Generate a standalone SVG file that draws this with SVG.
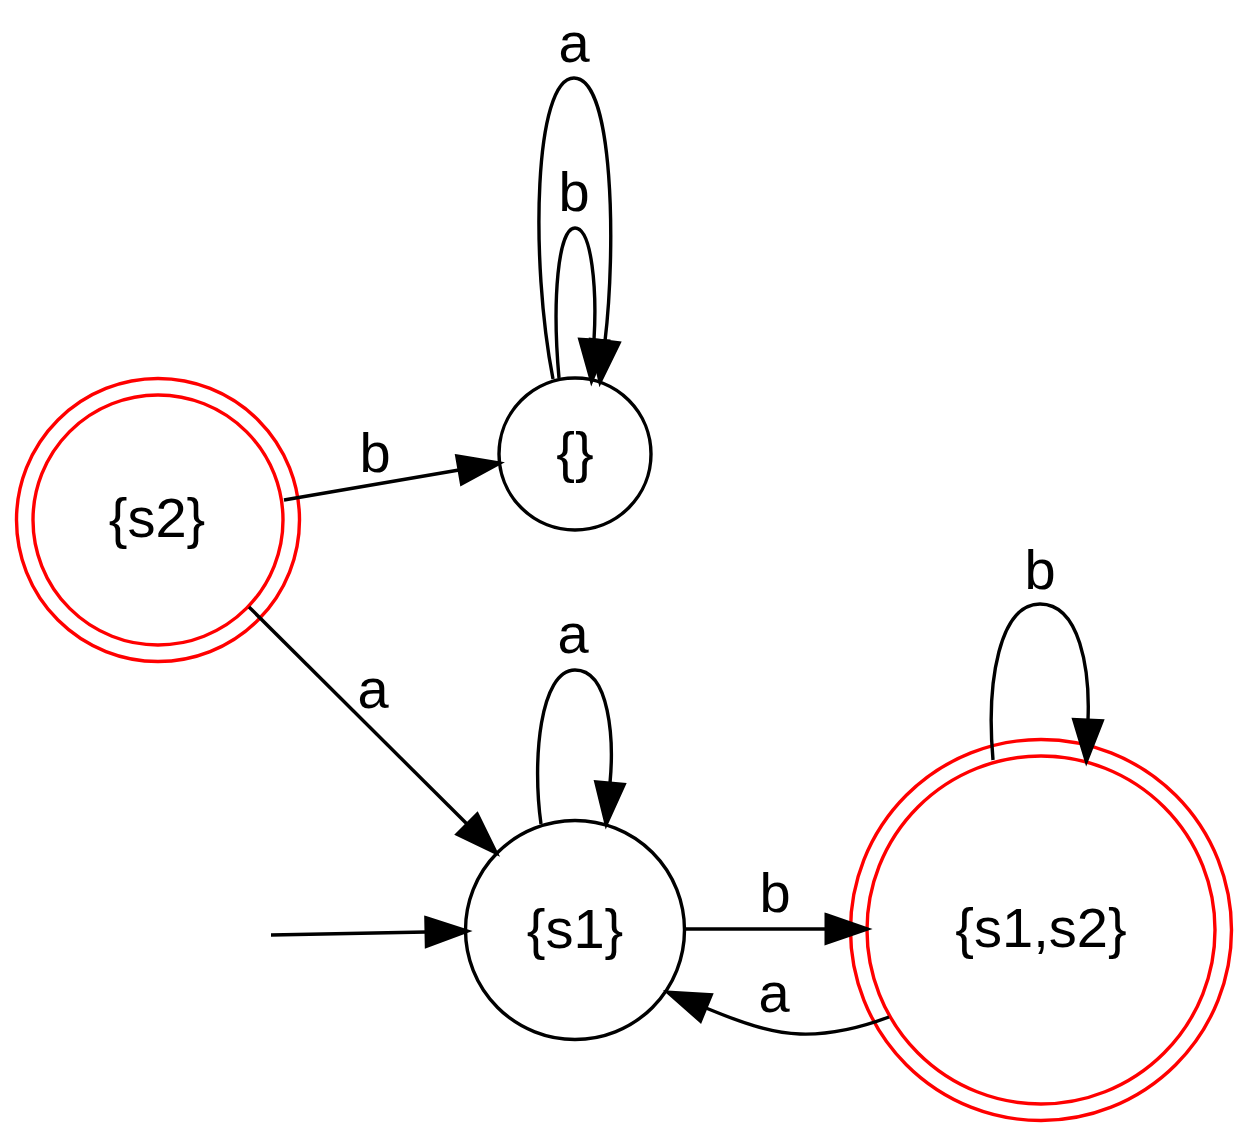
<svg xmlns="http://www.w3.org/2000/svg" width="1247" height="1135" viewBox="0 0 1247 1135">
  <style>
    text { font-family: "Liberation Sans", Arial, sans-serif; font-size: 56px; fill: #000; text-anchor: middle; }
    .state { fill: none; stroke: #000; stroke-width: 3.4; }
    .accept { fill: none; stroke: #ff0000; stroke-width: 3.4; }
    .edge { fill: none; stroke: #000; stroke-width: 3.4; marker-end: url(#arrow); }
  </style>
  <defs>
    <!-- filled arrowhead; the path ends at the arrow base and the head extends forward -->
    <marker id="arrow" markerUnits="userSpaceOnUse" markerWidth="50" markerHeight="40" refX="0" refY="0" orient="auto" overflow="visible">
      <path d="M0,-14.5 L42,0 L0,14.5 Z" fill="#000" stroke="#000" stroke-width="3" stroke-linejoin="miter"/>
    </marker>
  </defs>

  <rect x="0" y="0" width="1247" height="1135" fill="#fff"/>

  <!-- states -->
  <g id="node-s2">
    <circle class="accept" cx="158" cy="520" r="141.5"/>
    <circle class="accept" cx="158" cy="520" r="125"/>
    <text x="157" y="537">{s2}</text>
  </g>
  <g id="node-empty">
    <circle class="state" cx="575" cy="454" r="76"/>
    <text x="575" y="471">{}</text>
  </g>
  <g id="node-s1">
    <circle class="state" cx="575" cy="930" r="109.5"/>
    <text x="575" y="948">{s1}</text>
  </g>
  <g id="node-s1s2">
    <circle class="accept" cx="1041" cy="930" r="190.5"/>
    <circle class="accept" cx="1041" cy="930" r="174"/>
    <text x="1041" y="947">{s1,s2}</text>
  </g>

  <!-- transitions -->
  <g id="edges">
    <!-- start arrow into {s1} -->
    <path class="edge" d="M271,935 L426,932"/>

    <!-- {s2} -b-> {} -->
    <path class="edge" d="M284,500 L459,470"/>
    <text x="375" y="472">b</text>

    <!-- {s2} -a-> {s1} -->
    <path class="edge" d="M249,607 L467,824"/>
    <text x="373" y="708">a</text>

    <!-- {} self loops -->
    <path class="edge" d="M553,379 C530,260 534,78 574,78 C614,78 616,250 605,341"/>
    <text x="574" y="62">a</text>
    <path class="edge" d="M559,378 C552,300 558,228 575,228 C592,228 597,290 594,340"/>
    <text x="574" y="211">b</text>

    <!-- {s1} self loop -->
    <path class="edge" d="M541,824 C532,760 540,670 575,670 C610,670 614,740 610,783"/>
    <text x="573" y="653">a</text>

    <!-- {s1} -b-> {s1,s2} -->
    <path class="edge" d="M685,929 L826,929"/>
    <text x="775" y="912">b</text>

    <!-- {s1,s2} -a-> {s1} -->
    <path class="edge" d="M889,1017 C860,1028 830,1035 800,1034 C770,1033 740,1022 706,1008"/>
    <text x="774" y="1012">a</text>

    <!-- {s1,s2} self loop -->
    <path class="edge" d="M993,760 C986,680 1000,604 1040,604 C1080,604 1090,670 1088,720"/>
    <text x="1040" y="589">b</text>
  </g>
</svg>
